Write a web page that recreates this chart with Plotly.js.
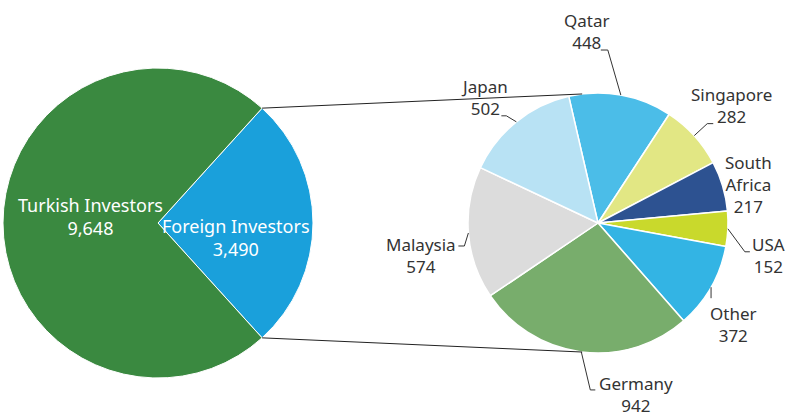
<!DOCTYPE html>
<html><head><meta charset="utf-8">
<script src="https://cdn.plot.ly/plotly-3.0.1.min.js"></script>
<style>html,body{margin:0;padding:0;background:#fff;}#chart{width:787px;height:418px;}</style>
</head><body><div id="chart"></div>
<script>
// ---- data ----
const mainLabels = ["Foreign Investors", "Turkish Investors"];
const mainValues = [3490, 9648];
const mainColors = ["#1aa0db", "#3a8940"];

const subLabels = ["Qatar", "Singapore", "South<br>Africa", "USA", "Other", "Germany", "Malaysia", "Japan"];
const subValues = [448, 282, 217, 152, 372, 942, 574, 502];
const subColors = ["#4bbde8", "#e2e784", "#2d5291", "#c9d92c", "#33b4e4", "#78ad6c", "#dcdcdc", "#b8e2f4"];

// ---- layout geometry (styles) ----
const W = 787, H = 418;
const L = {cx: 158, cy: 223, r: 155};
const R = {cx: 598, cy: 223, r: 130};
const rightRotation = -13;
// label text centre offsets (pixels) from slice edge anchor
const subLabelOffsets = [[-34,-64],[37,-30],[26,-2],[41,27],[22,37],[55,43],[-47,23],[-32,-24]];
// leader line elbow offsets from anchor, and horizontal tick length (null = no leader)
const subElbows = [[-13,-45,-7],[13,-12,6],null,[17,23,5],[0,11,0],[9,38,5],[-4,13,-6],[-10,-6,-5]];
const mainLabelOffsets = [[78,14],[-68,-7]];

function pt(c, deg, r) {
  const rr = (r === undefined ? c.r : r);
  const a = deg * Math.PI / 180;
  return [c.cx + rr * Math.sin(a), c.cy - rr * Math.cos(a)];
}
const fx = v => v / W, fy = v => 1 - v / H;
const fmt = v => v.toLocaleString('en-US');

const mainTotal = mainValues.reduce((a,b)=>a+b,0);
const foreignSpan = 360 * mainValues[0] / mainTotal;
const mainRotation = 90 - foreignSpan / 2;

const FONT = "Noto Sans, Open Sans, sans-serif";

const traces = [
  {
    type: 'pie', labels: mainLabels, values: mainValues, sort: false, direction: 'clockwise',
    rotation: mainRotation, textinfo: 'none', hoverinfo: 'label+value',
    marker: {colors: mainColors, line: {color: '#ffffff', width: 1}},
    domain: {x: [(L.cx - L.r) / W, (L.cx + L.r) / W], y: [fy(L.cy + L.r), fy(L.cy - L.r)]},
    showlegend: false
  },
  {
    type: 'pie', labels: subLabels, values: subValues, sort: false, direction: 'clockwise',
    rotation: rightRotation, textinfo: 'none', hoverinfo: 'label+value',
    marker: {colors: subColors, line: {color: '#ffffff', width: 1.5}},
    domain: {x: [(R.cx - R.r) / W, (R.cx + R.r) / W], y: [fy(R.cy + R.r), fy(R.cy - R.r)]},
    showlegend: false
  }
];

const annotations = [];
const shapes = [];
// main labels
mainLabels.forEach((lab, i) => {
  annotations.push({
    xref: 'paper', yref: 'paper', showarrow: false, xanchor: 'center', yanchor: 'middle',
    x: fx(L.cx + mainLabelOffsets[i][0]), y: fy(L.cy + mainLabelOffsets[i][1]),
    text: lab + '<br>' + fmt(mainValues[i]),
    font: {family: FONT, size: 18, color: '#ffffff'}, align: 'center'
  });
});
// sub labels with elbow leader lines
const subTotal = subValues.reduce((a,b)=>a+b,0);
let acc = rightRotation;
subValues.forEach((v, i) => {
  const span = 360 * v / subTotal;
  const mid = acc + span / 2;
  acc += span;
  const p = pt(R, mid);
  const o = subLabelOffsets[i];
  annotations.push({
    xref: 'paper', yref: 'paper', showarrow: false, xanchor: 'center', yanchor: 'middle',
    x: fx(p[0] + o[0]), y: fy(p[1] + o[1]),
    text: subLabels[i] + '<br>' + fmt(v),
    font: {family: FONT, size: 17, color: '#333333'}, align: 'center'
  });
  const e = subElbows[i];
  if (e) {
    const ex = p[0] + e[0], ey = p[1] + e[1];
    const tx = ex + e[2];
    const path = `M ${fx(p[0])} ${fy(p[1])} L ${fx(ex)} ${fy(ey)} L ${fx(tx)} ${fy(ey)}`;
    shapes.push({type: 'path', xref: 'paper', yref: 'paper', path: path, line: {color: '#333333', width: 1}});
  }
});

// connector lines between the pies
const lTop = pt(L, mainRotation), lBot = pt(L, mainRotation + foreignSpan);
const rTop = pt(R, -7), rBot = pt(R, 187);
shapes.push(
  {type: 'line', xref: 'paper', yref: 'paper', x0: fx(lTop[0]), y0: fy(lTop[1]), x1: fx(rTop[0]), y1: fy(rTop[1]), line: {color: '#222222', width: 1}},
  {type: 'line', xref: 'paper', yref: 'paper', x0: fx(lBot[0]), y0: fy(lBot[1]), x1: fx(rBot[0]), y1: fy(rBot[1]), line: {color: '#222222', width: 1}}
);

Plotly.newPlot('chart', traces, {
  width: W, height: H, margin: {l: 0, r: 0, t: 0, b: 0},
  paper_bgcolor: '#ffffff', plot_bgcolor: '#ffffff',
  annotations: annotations, shapes: shapes, showlegend: false
}, {displayModeBar: false, staticPlot: true});
</script></body></html>
